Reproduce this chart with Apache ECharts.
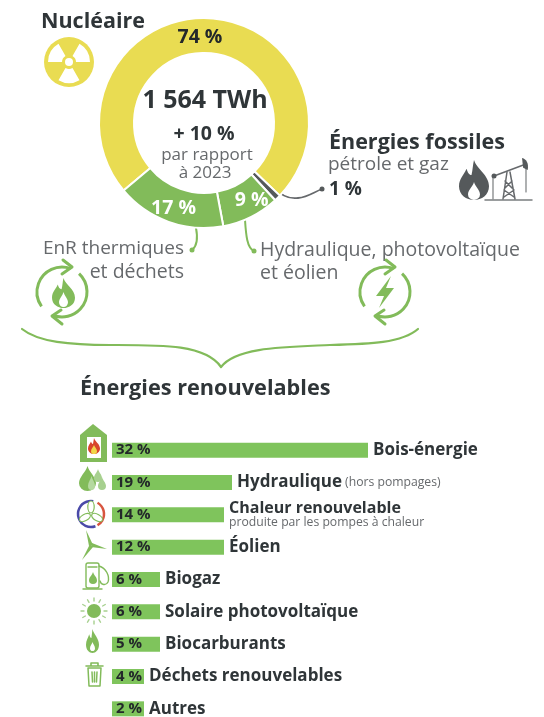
<!DOCTYPE html>
<html>
<head>
<meta charset="utf-8">
<style>
html,body{margin:0;padding:0;background:#fff}
#chart{width:544px;height:717px}
</style>
<script src="https://cdn.jsdelivr.net/npm/echarts@6/dist/echarts.min.js"></script>
</head>
<body>
<div id="chart"></div>
<script>
// anneau : ordre horaire a partir du nucleaire
var mixNames = ['Nucléaire', 'Énergies fossiles', 'Hydraulique, photovoltaïque et éolien', 'EnR thermiques et déchets'];
var mixValues = [74, 1, 9, 17];
var mixColors = ['#e9dc52', '#55595b', '#82bb5a', '#82bb5a'];

// barres : le pourcentage affiche et la longueur dessinee ne concordent pas sur l'original
var barNames = ['Bois-énergie', 'Hydraulique', 'Chaleur renouvelable', 'Éolien', 'Biogaz', 'Solaire photovoltaïque', 'Biocarburants', 'Déchets renouvelables', 'Autres'];
var barNotes = ['', '(hors pompages)', 'produite par les pompes à chaleur', '', '', '', '', '', ''];
var barShares = [32, 19, 14, 12, 6, 6, 5, 4, 2];
var barDrawn = [32, 15, 14, 14, 6, 6, 6, 4, 4];

var FONT = 'Open Sans';
var DARK = '#2f3538';
var GREY = '#66696c';
var GREEN = '#82bb5a';
var BAR = '#7fc45c';
var FLAME = 'M12 0C14 7 24 12 24 21C24 28 18 32 12 32C6 32 0 28 0 21C0 15 4 12 6 7C7 10 8 12 10 12C11 8 11 4 12 0Z';
var DROP = 'M10 0C12 8 20 14 20 22A10 10 0 0 1 0 22C0 14 8 8 10 0Z';

// le composant graphic n'a pas de type path : on enregistre une forme par trace
var shapeCount = 0;
var shapeIds = {};
function shapeFor(d) {
    if (!shapeIds[d]) {
        shapeIds[d] = 'svgp' + (shapeCount++);
        echarts.graphic.registerShape(shapeIds[d], echarts.graphic.extendPath(d, {}));
    }
    return shapeIds[d];
}

function txt(x, y, s, size, weight, color, align) {
    return {type: 'text', silent: true, x: x, y: y, style: {
        text: s, font: weight + ' ' + size + 'px "' + FONT + '"', fill: color,
        textAlign: align || 'left', textVerticalAlign: 'middle'
    }};
}
function path(d, x, y, w, h, color) {
    var name = shapeFor(d);
    var box = new (echarts.graphic.getShapeClass(name))().getBoundingRect();
    return {type: name, silent: true, x: x - box.x * w / box.width, y: y - box.y * h / box.height,
        scaleX: w / box.width, scaleY: h / box.height, style: {fill: color}};
}
function line(d, color, w) {
    return {type: shapeFor(d), silent: true, style: {fill: null, stroke: color, lineWidth: w, lineCap: 'round', lineJoin: 'round'}};
}
function dot(x, y, r, color) {
    return {type: 'circle', silent: true, shape: {cx: x, cy: y, r: r}, style: {fill: color}};
}
function rad(a) { return a * Math.PI / 180; }
function arc(x, y, r, a0, a1, cw, color, w) {
    return {type: 'arc', silent: true, shape: {cx: x, cy: y, r: r, startAngle: rad(a0), endAngle: rad(a1), clockwise: cw},
        style: {stroke: color, lineWidth: w, fill: null}};
}

// pictos
function radiation() {
    var out = [dot(69, 62, 25, '#e9dc52')];
    [90, 210, 330].forEach(function (a) {
        out.push({type: 'sector', silent: true, shape: {cx: 69, cy: 62, r0: 7, r: 21, startAngle: rad(a - 30), endAngle: rad(a + 30)}, style: {fill: '#fff'}});
    });
    out.push(dot(69, 62, 4, '#fff'));
    return out;
}
function recycle(cx, cy) {
    return [
        arc(cx, cy, 25, -70, 145, false, GREEN, 3),
        arc(cx, cy, 25, -47, 110, true, GREEN, 3),
        line('M' + (cx + 1) + ' ' + (cy - 32) + 'L' + (cx + 10) + ' ' + (cy - 25) + 'L' + (cx) + ' ' + (cy - 18), GREEN, 3),
        line('M' + (cx - 1) + ' ' + (cy + 18) + 'L' + (cx - 10) + ' ' + (cy + 24) + 'L' + (cx) + ' ' + (cy + 32), GREEN, 3)
    ];
}
function oilWell() {
    return [
        path(FLAME, 459, 160, 30, 40, '#55595b'),
        path(DROP, 468, 182, 12, 18, '#fff'),
        line('M485 200L532 200', '#7a7d7f', 1.5),
        line('M494 176L526 164', '#66696c', 1.5),
        dot(494, 176, 2.5, '#55595b'),
        line('M493 178L493 199M526 166L526 192', '#7a7d7f', 1.2),
        line('M507 172L503 199M510 172L515 199M505 181L512 188M512 181L505 188M504 190L514 197M514 190L504 197', '#66696c', 1.5),
        path('M0 0C4 1 6 5 5 11L1 9Z', 522, 158, 6, 12, '#55595b')
    ];
}
function barIcons() {
    var out = [];
    // bois-energie
    out.push({type: 'polygon', silent: true, shape: {points: [[93, 424], [107, 435], [107, 462], [80, 462], [80, 435]]}, style: {fill: GREEN}});
    out.push({type: 'rect', silent: true, shape: {x: 87, y: 437, width: 14, height: 21}, style: {fill: '#fff'}});
    out.push(path(FLAME, 88, 438, 12, 16, '#d8452c'));
    out.push(path(DROP, 91, 445, 6, 9, '#f1d64a'));
    // gouttes
    out.push(path(DROP, 79, 466, 17, 25, GREEN));
    out.push(path(DROP, 88, 476, 7, 14, '#b5d9a0'));
    out.push(path(DROP, 94, 469, 8, 13, '#a7d08f'));
    out.push(path(DROP, 98, 477, 8, 13, '#a7d08f'));
    // pompe a chaleur
    out.push(arc(91, 514, 13, 70, 280, true, '#4a4aa8', 2.5));
    out.push(arc(91, 514, 13, -60, 60, true, '#d8553f', 2.5));
    [0, 120, 240].forEach(function (a) {
        out.push({type: 'ellipse', silent: true, shape: {cx: 0, cy: -7, rx: 3.2, ry: 6}, x: 91, y: 514, rotation: rad(a), style: {fill: '#fff', stroke: GREEN, lineWidth: 1.2}});
    });
    // eolienne
    out.push({type: 'polygon', silent: true, shape: {points: [[86, 530], [93, 545], [89, 546]]}, style: {fill: GREEN}});
    out.push({type: 'polygon', silent: true, shape: {points: [[107, 549], [91, 547], [92, 543]]}, style: {fill: GREEN}});
    out.push({type: 'polygon', silent: true, shape: {points: [[82, 560], [90, 544], [93, 547]]}, style: {fill: GREEN}});
    // biogaz
    out.push({type: 'rect', silent: true, shape: {x: 86, y: 563, width: 13, height: 25, r: 2}, style: {fill: '#fff', stroke: GREEN, lineWidth: 1.4}});
    out.push(line('M83 589L102 589M88 567L97 567M99 566C106 568 110 576 108 582C106 586 101 585 100 581', GREEN, 1.4));
    out.push(path(DROP, 89, 572, 8, 12, GREEN));
    // soleil
    out.push(dot(94, 611, 7, GREEN));
    for (var a = 0; a < 360; a += 30) {
        var c = Math.cos(rad(a)), s = Math.sin(rad(a));
        out.push(line('M' + (94 + 10 * c) + ' ' + (611 + 10 * s) + 'L' + (94 + 13 * c) + ' ' + (611 + 13 * s), '#a7d08f', 1.4));
    }
    // biocarburants
    out.push(path(FLAME, 86, 629, 13, 24, GREEN));
    out.push(path(DROP, 90, 642, 5, 9, '#fff'));
    // corbeille
    out.push(line('M86 666L103 666M91 666L91 663L98 663L98 666', GREEN, 1.6));
    out.push(line('M88 668L89 686L100 686L101 668L88 668M92 672L92.5 682M94.5 672L94.5 682M97 672L96.5 682', GREEN, 1.5));
    return out;
}

var graphics = [
    txt(41, 22, 'Nucléaire', 21.5, 700, DARK),
    txt(205, 101, '1 564 TWh', 25, 700, DARK, 'center'),
    txt(204, 134, '+ 10 %', 19.5, 700, DARK, 'center'),
    txt(207, 155, 'par rapport', 17, 400, GREY, 'center'),
    txt(205, 173, 'à 2023', 17, 400, GREY, 'center'),
    txt(329, 143, 'Énergies fossiles', 21.5, 700, DARK),
    txt(328, 165, 'pétrole et gaz', 19, 400, GREY),
    txt(329, 190, '1 %', 19, 700, DARK),
    txt(184, 249, 'EnR thermiques', 19, 400, GREY, 'right'),
    txt(184, 272, 'et déchets', 19.5, 400, GREY, 'right'),
    txt(260, 250, 'Hydraulique, photovoltaïque', 19.5, 400, GREY),
    txt(260, 273, 'et éolien', 19.5, 400, GREY),
    txt(80, 389, 'Énergies renouvelables', 21.7, 700, DARK),
    // renvois
    line('M196 228C198 238 197 246 192 250', GREEN, 2),
    dot(192, 250, 2.5, GREEN),
    line('M245 220C246 235 247 248 254 251', GREEN, 2),
    dot(254, 251, 2.5, GREEN),
    line('M274 187C282 197 290 199 298 198C308 197 314 192 322 189', '#66696c', 1.8),
    dot(322, 189, 2.5, '#55595b'),
    // accolade
    line('M22 329C38 342 70 345 110 345C160 345 205 344 221 367C236 347 285 347 330 345C370 344 402 343 418 329', GREEN, 2.2)
].concat(radiation(), recycle(62, 292), recycle(385, 292), oilWell(), barIcons());

// flamme et eclair au milieu des boucles
graphics.push(path(FLAME, 52, 278, 23, 30, GREEN));
graphics.push(path(DROP, 59, 292, 9, 15, '#fff'));
graphics.push({type: 'polygon', silent: true, shape: {points: [[391, 276], [376, 296], [384, 296], [379, 308], [394, 288], [386, 288]]}, style: {fill: GREEN}});

var chart = echarts.init(document.getElementById('chart'), null, {renderer: 'canvas'});
chart.setOption({
    animation: false,
    backgroundColor: '#fff',
    // la derniere rangee deborde presque du cadre : pas de recadrage automatique
    grid: {left: 112, top: 434, width: 256, height: 291, outerBoundsMode: 'none'},
    xAxis: {type: 'value', min: 0, max: 32, show: false},
    yAxis: {type: 'category', data: barNames, inverse: true, show: false},
    graphic: graphics,
    series: [
        {
            type: 'pie',
            silent: true,
            center: [204, 123],
            radius: [70, 105],
            startAngle: 220,
            clockwise: true,
            data: mixNames.map(function (n, i) {
                return {
                    name: n,
                    value: mixValues[i],
                    itemStyle: {color: mixColors[i]},
                    label: {
                        show: i !== 1,
                        color: i === 0 ? '#23282a' : '#fff',
                        offset: i === 0 ? [-7, 5] : (i === 2 ? [7, -3] : [0, 0])
                    }
                };
            }),
            itemStyle: {borderColor: '#fff', borderWidth: 2},
            label: {position: 'inside', formatter: '{c} %', fontFamily: FONT, fontWeight: 700, fontSize: 19.5},
            labelLine: {show: false}
        },
        {
            type: 'bar',
            silent: true,
            barWidth: 15,
            barGap: '-100%',
            data: barDrawn,
            itemStyle: {color: BAR},
            label: {
                show: true,
                position: 'insideLeft',
                distance: 4,
                fontFamily: FONT,
                fontWeight: 700,
                fontSize: 15,
                color: '#23282a',
                formatter: function (p) { return barShares[p.dataIndex] + ' %'; }
            }
        },
        {
            type: 'bar',
            silent: true,
            barWidth: 15,
            barGap: '-100%',
            data: barDrawn,
            itemStyle: {color: 'transparent'},
            label: {
                show: true,
                position: 'right',
                distance: 5,
                fontFamily: FONT,
                formatter: function (p) {
                    var note = barNotes[p.dataIndex];
                    if (!note) return '{b|' + p.name + '}';
                    if (p.dataIndex === 2) return '{c|' + p.name + '}\n{n|' + note + '}';
                    return '{b|' + p.name + '} {n|' + note + '}';
                },
                rich: {
                    b: {fontFamily: FONT, fontWeight: 700, fontSize: 17, color: DARK, lineHeight: 16},
                    c: {fontFamily: FONT, fontWeight: 700, fontSize: 16, color: DARK, lineHeight: 15},
                    n: {fontFamily: FONT, fontSize: 12.2, color: GREY, lineHeight: 13}
                }
            }
        }
    ]
});
</script>
</body>
</html>
